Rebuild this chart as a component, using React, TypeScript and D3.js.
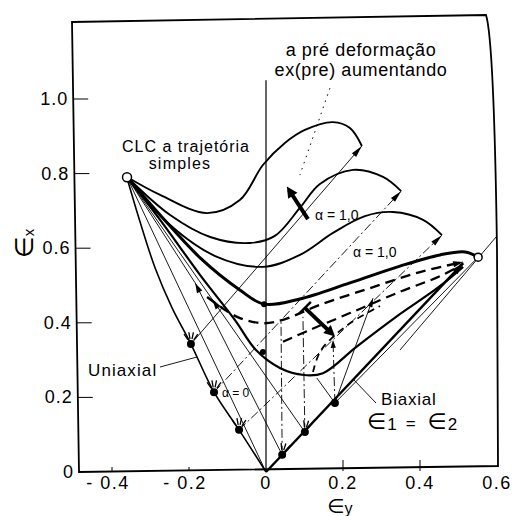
import React from 'react';
import * as d3 from 'd3';

type Pt = [number, number];

// axis ticks
const yTickValues = [0, 0.2, 0.4, 0.6, 0.8, 1.0];
const yTickLabels = ['0', '0.2', '0.4', '0.6', '0.8', '1.0'];
const xTickValues = [-0.4, -0.2, 0, 0.2, 0.4, 0.6];
const xTickLabels = ['- 0.4', '- 0.2', '0', '0.2', '0.4', '0.6'];

// key points (ey, ex)
const origin: Pt = [0, 0];
const clcPoint: Pt = [-0.361, 0.79];
const endPoint: Pt = [0.551, 0.576];
const biaxialTip: Pt = [0.512, 0.56];

// pre-strain points
const uniaxialDots: Pt[] = [[-0.07, 0.113], [-0.135, 0.214], [-0.195, 0.343]];
const biaxialDots: Pt[] = [[0.042, 0.046], [0.101, 0.107], [0.179, 0.185]];

const uniaxialPath: Pt[] = [
  [-0.361, 0.788], [-0.327, 0.67], [-0.288, 0.547], [-0.244, 0.44],
  [-0.195, 0.343], [-0.135, 0.214], [-0.07, 0.113], [0, 0],
];

// forming limit curves after biaxial pre-strain (alpha = 1)
const curveA: Pt[] = [
  [-0.361, 0.791], [-0.275, 0.743], [-0.153, 0.694], [-0.068, 0.729], [-0.008, 0.823],
  [0.049, 0.882], [0.101, 0.917], [0.174, 0.938], [0.218, 0.922], [0.249, 0.874],
];
const curveB: Pt[] = [
  [-0.361, 0.791], [-0.249, 0.689], [-0.145, 0.63], [-0.042, 0.614], [0.023, 0.633],
  [0.088, 0.708], [0.14, 0.772], [0.226, 0.81], [0.304, 0.791], [0.351, 0.753],
];
const curveC: Pt[] = [
  [-0.361, 0.791], [-0.249, 0.662], [-0.132, 0.579], [-0.008, 0.55], [0.088, 0.582],
  [0.174, 0.641], [0.257, 0.686], [0.33, 0.697], [0.408, 0.676], [0.457, 0.635],
];
// simple path CLC (bold)
const curveD: Pt[] = [
  [-0.361, 0.791], [-0.275, 0.689], [-0.171, 0.574], [-0.068, 0.488], [-0.005, 0.45],
  [0.088, 0.464], [0.218, 0.507], [0.348, 0.552], [0.452, 0.582], [0.517, 0.59], [0.551, 0.576],
];
// after uniaxial pre-strain (alpha = 0)
const curveF: Pt[] = [
  [-0.361, 0.791], [-0.275, 0.676], [-0.171, 0.528], [-0.081, 0.408], [-0.026, 0.327],
  [0.036, 0.279], [0.099, 0.26], [0.148, 0.265], [0.234, 0.335], [0.338, 0.416],
  [0.449, 0.496], [0.512, 0.55],
];
const dashed1: Pt[] = [
  [-0.153, 0.469], [-0.075, 0.416], [-0.008, 0.399], [0.044, 0.408], [0.14, 0.448],
  [0.27, 0.493], [0.4, 0.536], [0.512, 0.563],
];
const dashed2: Pt[] = [
  [0.044, 0.349], [0.114, 0.381], [0.218, 0.426], [0.348, 0.483], [0.452, 0.525], [0.512, 0.558],
];
const dashed3: Pt[] = [
  [0.122, 0.268], [0.14, 0.322], [0.174, 0.362], [0.223, 0.402], [0.296, 0.445],
];

// strain path ends
const alphaOneEnds: Pt[] = [[0.351, 0.753], [0.249, 0.874], [0.457, 0.635]];
const b1Bend: Pt = [-0.184, 0.507];
const verticalTops: Pt[] = [[0.039, 0.405], [0.096, 0.416], [0.174, 0.354]];
const b3Up: Pt = [0.278, 0.466];
const b3Left: Pt = [0.132, 0.252];
const thinRight: Pt[] = [[0.348, 0.327], [0.6, 0.633]];
const prestrainHint: Pt[] = [[0.166, 1.029], [0.088, 0.796]];
const boldArrow1: Pt[] = [[0.109, 0.678], [0.06, 0.756]];
const boldArrow2: Pt[] = [[0.101, 0.44], [0.169, 0.373]];
const zeroMarks: Pt[] = [[-0.005, 0.45], [-0.008, 0.322]];

const x = d3.scaleLinear().domain([0, 0.2]).range([266, 343]);
const y = d3.scaleLinear().domain([0, 1]).range([472, 99]);

const smooth = d3.line<Pt>().x(d => x(d[0])).y(d => y(d[1])).curve(d3.curveCatmullRom.alpha(0.5));
const straight = d3.line<Pt>().x(d => x(d[0])).y(d => y(d[1]));

const lerp = (a: Pt, b: Pt, t: number): Pt => [a[0] + (b[0] - a[0]) * t, a[1] + (b[1] - a[1]) * t];

// triangle arrow head, tip at `tip`, pointing away from `from`
function head(tip: Pt, from: Pt, len = 9, wid = 3.2) {
  const tx = x(tip[0]), ty = y(tip[1]);
  const fx = x(from[0]), fy = y(from[1]);
  const dx = tx - fx, dy = ty - fy;
  const L = Math.hypot(dx, dy);
  const ux = dx / L, uy = dy / L;
  const bx = tx - ux * len, by = ty - uy * len;
  return `${tx},${ty} ${bx - uy * wid},${by + ux * wid} ${bx + uy * wid},${by - ux * wid}`;
}

// little "splash" strokes above the pre-strain points
function splash(p: Pt, angles: number[]) {
  const cx = x(p[0]), cy = y(p[1]);
  return angles.map((a, i) => {
    const r = (a * Math.PI) / 180;
    return (
      <line key={i} x1={cx + Math.cos(r) * 5} y1={cy + Math.sin(r) * 5}
        x2={cx + Math.cos(r) * 12} y2={cy + Math.sin(r) * 12} stroke="#000" strokeWidth={1.3} />
    );
  });
}

const font = "'Liberation Sans', 'DejaVu Sans', Arial, sans-serif";
const frameX = (py: number) => 72 + ((py - 22) * 7) / 450;

export default function App() {
  const thin = { fill: 'none', stroke: '#000', strokeWidth: 0.9 };
  const dashDot = { ...thin, strokeDasharray: '9,3,2,3' };
  return (
    <svg width={512} height={516} style={{ position: 'absolute', left: 0, top: 0, background: '#fff' }}
      fontFamily={font}>
      {/* frame */}
      <path d="M72,22 L486,15 Q494,40 497,250 L498,466 L79,472 Z" fill="none" stroke="#000" strokeWidth={1.8} />

      {/* y ticks */}
      {yTickValues.map((v, i) => {
        const py = y(v);
        const bx = frameX(py);
        return (
          <g key={'yt' + i}>
            {v > 0 && <line x1={bx} x2={bx + 15} y1={py} y2={py} stroke="#000" strokeWidth={1} />}
            <text x={bx - 5} y={py + 6} textAnchor="end" fontSize={18} letterSpacing={1}>{yTickLabels[i]}</text>
          </g>
        );
      })}
      {/* x ticks */}
      {xTickValues.map((v, i) => (
        <g key={'xt' + i}>
          {v !== 0 && v < 0.55 && <line x1={x(v)} x2={x(v)} y1={471} y2={v > 0 ? 460 : 467} stroke="#000" strokeWidth={1} />}
          <text x={x(v) + (v < 0 ? -4 : 0)} y={489} textAnchor="middle" fontSize={18} letterSpacing={1.5}>{xTickLabels[i]}</text>
        </g>
      ))}

      {/* axis labels */}
      <text transform="translate(33,258) rotate(-90)" fontSize={25}>∈<tspan fontSize={15} dy={1}>x</tspan></text>
      <text x={327} y={513} fontSize={20}>∈<tspan fontSize={16} dy={1}>y</tspan></text>

      {/* ey = 0 line */}
      <line x1={x(0)} x2={x(0)} y1={y(0)} y2={y(1.05)} stroke="#000" strokeWidth={1.2} />

      {/* thin strain paths */}
      <path d={straight([origin, clcPoint]) || ''} {...thin} />
      <path d={straight([biaxialDots[0], b1Bend, clcPoint]) || ''} {...thin} />
      <path d={straight([biaxialDots[1], clcPoint]) || ''} {...thin} />
      <path d={straight([uniaxialDots[2], alphaOneEnds[1]]) || ''} {...thin} />
      <path d={straight([uniaxialDots[1], alphaOneEnds[0]]) || ''} {...dashDot} />
      <path d={straight([uniaxialDots[0], alphaOneEnds[2]]) || ''} {...dashDot} />
      {biaxialDots.map((b, i) => (
        <path key={'v' + i} d={straight([b, verticalTops[i]]) || ''} {...dashDot} />
      ))}
      <path d={straight([biaxialDots[2], b3Up]) || ''} {...thin} />
      <path d={straight([biaxialDots[2], b3Left]) || ''} {...thin} />
      <path d={straight([biaxialDots[2], endPoint]) || ''} {...thin} />
      <path d={straight(thinRight) || ''} {...thin} />
      <path d={straight(prestrainHint) || ''} fill="none" stroke="#000" strokeWidth={1} strokeDasharray="1.5,5" />

      {/* pre-strain paths */}
      <path d={smooth(uniaxialPath) || ''} fill="none" stroke="#000" strokeWidth={1.6} />
      <path d={straight([origin, biaxialTip]) || ''} fill="none" stroke="#000" strokeWidth={2.4} />

      {/* limit curves */}
      <path d={smooth(curveA) || ''} fill="none" stroke="#000" strokeWidth={1.9} />
      <path d={smooth(curveB) || ''} fill="none" stroke="#000" strokeWidth={1.9} />
      <path d={smooth(curveC) || ''} fill="none" stroke="#000" strokeWidth={1.9} />
      <path d={smooth(curveD) || ''} fill="none" stroke="#000" strokeWidth={3} />
      <path d={smooth(curveF) || ''} fill="none" stroke="#000" strokeWidth={2.2} />
      <path d={smooth(dashed1) || ''} fill="none" stroke="#000" strokeWidth={2.4} strokeDasharray="10,6" />
      <path d={smooth(dashed2) || ''} fill="none" stroke="#000" strokeWidth={2.2} strokeDasharray="10,6" />
      <path d={smooth(dashed3) || ''} fill="none" stroke="#000" strokeWidth={1.8} strokeDasharray="7,5" />

      {/* arrow heads */}
      <polygon points={head(alphaOneEnds[1], uniaxialDots[2], 12, 2.8)} />
      <polygon points={head(alphaOneEnds[0], uniaxialDots[1], 12, 2.8)} />
      <polygon points={head(alphaOneEnds[2], uniaxialDots[0], 12, 2.8)} />
      <polygon points={head(biaxialTip, origin, 12, 3.5)} />
      <polygon points={head(dashed1[7], dashed1[6], 10, 3)} />
      <polygon points={head(lerp(biaxialDots[0], b1Bend, 1), biaxialDots[0], 10, 3)} />
      <polygon points={head(lerp(biaxialDots[1], clcPoint, 0.52), biaxialDots[1], 10, 3)} />
      <polygon points={head(b3Up, biaxialDots[2], 9, 2.6)} />
      <polygon points={head(verticalTops[2], biaxialDots[2], 8, 2.6)} />

      {/* bold arrows */}
      <line x1={x(boldArrow1[0][0])} y1={y(boldArrow1[0][1])} x2={x(boldArrow1[1][0])} y2={y(boldArrow1[1][1])}
        stroke="#000" strokeWidth={4} />
      <polygon points={head(lerp(boldArrow1[0], boldArrow1[1], 1.12), boldArrow1[0], 11, 5.5)} />
      <line x1={x(boldArrow2[0][0])} y1={y(boldArrow2[0][1])} x2={x(boldArrow2[1][0])} y2={y(boldArrow2[1][1])}
        stroke="#000" strokeWidth={4} />
      <polygon points={head(lerp(boldArrow2[0], boldArrow2[1], 1.15), boldArrow2[0], 11, 5.5)} />
      <line x1={x(boldArrow2[0][0]) - 6} y1={y(boldArrow2[0][1]) + 6} x2={x(boldArrow2[0][0]) + 6} y2={y(boldArrow2[0][1]) - 6}
        stroke="#000" strokeWidth={2.5} />

      {/* points */}
      {zeroMarks.map((p, i) => <circle key={'z' + i} cx={x(p[0])} cy={y(p[1])} r={3} />)}
      {uniaxialDots.map((p, i) => (
        <g key={'u' + i}>
          <circle cx={x(p[0])} cy={y(p[1])} r={4} />
          {splash(p, [-125, -100, -78, -55])}
        </g>
      ))}
      {biaxialDots.map((p, i) => (
        <g key={'b' + i}>
          <circle cx={x(p[0])} cy={y(p[1])} r={4} />
          {i < 2 && splash(p, [-95, -72, -50])}
        </g>
      ))}
      <circle cx={x(clcPoint[0])} cy={y(clcPoint[1])} r={4.5} fill="#fff" stroke="#000" strokeWidth={1.5} />
      <circle cx={x(endPoint[0])} cy={y(endPoint[1])} r={4} fill="#fff" stroke="#000" strokeWidth={1.5} />

      {/* annotations */}
      <text x={361} y={56} textAnchor="middle" fontSize={18} letterSpacing={0.6}>a pré deformação</text>
      <text x={361} y={76} textAnchor="middle" fontSize={18} letterSpacing={0.6}>ex(pre) aumentando</text>
      <text x={186} y={152} textAnchor="middle" fontSize={16} letterSpacing={1}>CLC a trajetória</text>
      <text x={180} y={169} textAnchor="middle" fontSize={16} letterSpacing={1.2}>simples</text>
      <text x={315} y={220} fontSize={14}>α = 1,0</text>
      <text x={353} y={257} fontSize={14}>α = 1,0</text>
      <text x={222} y={397} fontSize={12}>α = 0</text>
      <text x={88} y={376} fontSize={17} letterSpacing={1.1}>Uniaxial</text>
      <line x1={160} y1={367} x2={197} y2={357} stroke="#000" strokeWidth={0.9} />
      <text x={381} y={405} fontSize={17} letterSpacing={0.8}>Biaxial</text>
      <line x1={376} y1={403} x2={354} y2={380} stroke="#000" strokeWidth={0.9} />
      <text x={367} y={429} fontSize={22}>
        ∈<tspan fontSize={17} dx={1} dy={1}>1</tspan><tspan fontSize={17} dx={9} dy={-1}>=</tspan>
        <tspan dx={12}>∈</tspan><tspan fontSize={17} dx={1} dy={1}>2</tspan>
      </text>
    </svg>
  );
}
